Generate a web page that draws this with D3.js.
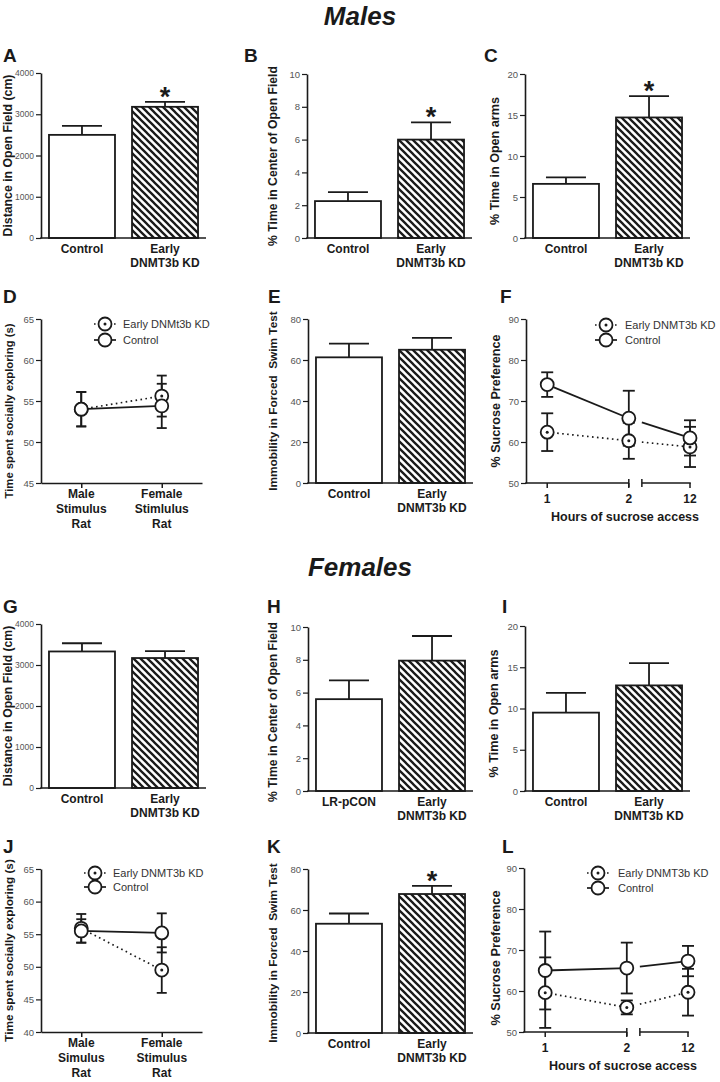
<!DOCTYPE html>
<html>
<head>
<meta charset="utf-8">
<script src="https://cdn.jsdelivr.net/npm/d3@7/dist/d3.min.js"></script>
<style>
  html, body { margin: 0; padding: 0; background: #fff; }
  svg { display: block; }
  text { font-family: 'Liberation Sans', Arial, Helvetica, sans-serif; }
</style>
</head>
<body>
<svg id="fig" width="720" height="1082"></svg>
<script>
// ---------------- DATA ----------------
const barCats = ["Control", "Early\nDNMT3b KD"];
const barCatsH = ["LR-pCON", "Early\nDNMT3b KD"];
const socialCatsM = ["Male\nStimulus\nRat", "Female\nStimlulus\nRat"];
const socialCatsF = ["Male\nSimulus\nRat", "Female\nStimulus\nRat"];
const hours = ["1", "2", "12"];

// Males
const distMales = [2500, 3180];
const distMalesErr = [220, 120];
const centerMales = [2.25, 6.0];
const centerMalesErr = [0.55, 1.05];
const openArmsMales = [6.6, 14.7];
const openArmsMalesErr = [0.8, 2.6];
const fstMales = [61.3, 65.0];
const fstMalesErr = [6.7, 5.8];
const socialMalesKD = [54.0, 55.6];
const socialMalesKDErr = [2.1, 2.5];
const socialMalesCtrl = [54.0, 54.4];
const socialMalesCtrlErr = [2.1, 2.7];
const sucroseMalesCtrl = [74.0, 65.8, 61.0];
const sucroseMalesCtrlErr = [3.0, 6.7, 4.3];
const sucroseMalesKD = [62.4, 60.3, 58.8];
const sucroseMalesKDErr = [4.6, 4.4, 4.9];

// Females
const distFemales = [3330, 3170];
const distFemalesErr = [200, 170];
const centerFemales = [5.6, 7.95];
const centerFemalesErr = [1.15, 1.5];
const openArmsFemales = [9.5, 12.8];
const openArmsFemalesErr = [2.4, 2.7];
const fstFemales = [53.3, 67.8];
const fstFemalesErr = [5.0, 4.0];
const socialFemalesKD = [55.9, 49.5];
const socialFemalesKDErr = [2.2, 3.5];
const socialFemalesCtrl = [55.5, 55.2];
const socialFemalesCtrlErr = [1.8, 3.0];
const sucroseFemalesCtrl = [65.0, 65.6, 67.3];
const sucroseFemalesCtrlErr = [9.5, 6.2, 3.7];
const sucroseFemalesKD = [59.6, 56.0, 59.7];
const sucroseFemalesKDErr = [8.6, 1.7, 5.7];

// tick values
const ticksDist = [0, 1000, 2000, 3000, 4000];
const ticksCenter = [0, 2, 4, 6, 8, 10];
const ticksArms = [0, 5, 10, 15, 20];
const ticksFst = [0, 20, 40, 60, 80];
const ticksSocialM = [45, 50, 55, 60, 65];
const ticksSocialF = [40, 45, 50, 55, 60, 65];
const ticksSucrose = [50, 60, 70, 80, 90];

// ---------------- DRAWING ----------------
const svg = d3.select("#fig");
const INK = "#1a1a1a";
const AXW = 1.6;

const defs = svg.append("defs");
const pat = defs.append("pattern").attr("id", "hatch")
  .attr("patternUnits", "userSpaceOnUse").attr("width", 7).attr("height", 7);
pat.append("rect").attr("width", 7).attr("height", 7).attr("fill", "#fff");
pat.append("path").attr("d", "M-1,-1 L8,8 M-1,6 L1,8 M6,-1 L8,1")
  .attr("stroke", INK).attr("stroke-width", 2.3).attr("stroke-linecap", "square");

function title(txt, y) {
  svg.append("text").attr("x", 360).attr("y", y).attr("text-anchor", "middle")
    .attr("font-size", 26).attr("font-weight", "bold").attr("font-style", "italic")
    .attr("fill", INK).text(txt);
}
function letter(txt, x, y) {
  svg.append("text").attr("x", x).attr("y", y).attr("font-size", 19)
    .attr("font-weight", "bold").attr("fill", INK).text(txt);
}
// x is the visual centre of the rotated label
function yLabel(txt, x, yc, fs) {
  svg.append("text")
    .attr("transform", `translate(${x + fs * 0.36},${yc}) rotate(-90)`)
    .attr("text-anchor", "middle").attr("font-size", fs).attr("font-weight", "bold")
    .attr("fill", INK).style("white-space", "pre").text(txt);
}
function yAxis(g, y, ticks, x0, fs) {
  const ax = g.append("g").attr("transform", `translate(${x0},0)`)
    .call(d3.axisLeft(y).tickValues(ticks).tickFormat(d3.format("d"))
      .tickSize(5).tickSizeOuter(0).tickPadding(2));
  ax.select(".domain").attr("stroke", INK).attr("stroke-width", AXW);
  ax.selectAll(".tick line").attr("stroke", INK).attr("stroke-width", 1.2);
  ax.selectAll(".tick text").attr("font-size", fs || 9.5).attr("fill", "#555")
    .attr("font-family", "'Liberation Sans', Arial, sans-serif");
  return ax;
}
function multiLine(g, x, y, txt, size, lh) {
  const t = g.append("text").attr("x", x).attr("y", y).attr("text-anchor", "middle")
    .attr("font-size", size).attr("font-weight", "bold").attr("fill", INK);
  txt.split("\n").forEach((s, i) => {
    t.append("tspan").attr("x", x).attr("dy", i === 0 ? 0 : lh).text(s);
  });
}

function barPanel(p) {
  const g = svg.append("g");
  const y = d3.scaleLinear().domain(p.domain).range([p.yBot, p.yTop]);
  const x = d3.scaleBand().domain(p.cats).range([p.x0, p.x0 + 165])
    .paddingInner(0.205).paddingOuter(0.096);
  const rows = p.cats.map((c, i) => ({ c, v: p.vals[i], e: p.errs[i], i }));
  rows.forEach(d => {
    const cx = x(d.c) + x.bandwidth() / 2;
    g.append("line").attr("x1", cx).attr("x2", cx).attr("y1", y(d.v)).attr("y2", y(d.v + d.e))
      .attr("stroke", INK).attr("stroke-width", 1.8);
    g.append("line").attr("x1", cx - 20).attr("x2", cx + 20)
      .attr("y1", y(d.v + d.e)).attr("y2", y(d.v + d.e))
      .attr("stroke", INK).attr("stroke-width", 1.8);
  });
  g.selectAll("rect.bar").data(rows).join("rect").attr("class", "bar")
    .attr("x", d => x(d.c)).attr("width", x.bandwidth())
    .attr("y", d => y(d.v)).attr("height", d => p.yBot - y(d.v))
    .attr("fill", d => d.i === 0 ? "#fff" : "url(#hatch)")
    .attr("stroke", INK).attr("stroke-width", 1.8);
  rows.forEach(d => {
    if (p.star && p.star[d.i]) {
      g.append("text").attr("x", x(d.c) + x.bandwidth() / 2).attr("y", y(d.v + d.e) + 4)
        .attr("text-anchor", "middle").attr("font-size", 27).attr("font-weight", "bold")
        .attr("fill", INK).text("*");
    }
  });
  yAxis(g, y, p.ticks, p.x0, p.tickFs);
  g.append("line").attr("x1", p.x0 - 0.8).attr("x2", p.x0 + 165).attr("y1", p.yBot).attr("y2", p.yBot)
    .attr("stroke", INK).attr("stroke-width", AXW);
  p.cats.forEach(c => multiLine(g, x(c) + x.bandwidth() / 2, p.yBot + 15, c, 12, 14));
  yLabel(p.ylabel, p.labelX, (p.yTop + p.yBot) / 2 + (p.labelDy || 0), p.labelFs);
  letter(p.id, p.lx, p.ly);
}

function drawSeries(g, pts, errW) {
  pts.forEach(d => {
    g.append("line").attr("x1", d.x).attr("x2", d.x).attr("y1", d.lo).attr("y2", d.hi)
      .attr("stroke", INK).attr("stroke-width", 1.8);
    [d.lo, d.hi].forEach(yy => g.append("line").attr("x1", d.x - errW).attr("x2", d.x + errW)
      .attr("y1", yy).attr("y2", yy).attr("stroke", INK).attr("stroke-width", 1.8));
  });
}
function drawLine(g, segs, dotted) {
  const line = d3.line().x(d => d[0]).y(d => d[1]);
  segs.forEach(s => g.append("path").attr("d", line(s)).attr("fill", "none")
    .attr("stroke", INK).attr("stroke-width", dotted ? 1.7 : 1.8)
    .attr("stroke-dasharray", dotted ? "1.6,3.4" : null));
}
function drawMarkers(g, pts, kd) {
  pts.forEach(d => {
    g.append("circle").attr("cx", d.x).attr("cy", d.y).attr("r", 6.5)
      .attr("fill", "#fff").attr("stroke", INK).attr("stroke-width", 1.8);
    if (kd) g.append("circle").attr("cx", d.x).attr("cy", d.y).attr("r", 1.5).attr("fill", INK);
  });
}
function legend(g, cx, tx, y1, y2, kdLabel) {
  const rows = [{ y: y1, kd: true, t: kdLabel }, { y: y2, kd: false, t: "Control" }];
  rows.forEach(r => {
    g.append("line").attr("x1", cx - 11).attr("x2", cx + 11).attr("y1", r.y).attr("y2", r.y)
      .attr("stroke", INK).attr("stroke-width", 1.7).attr("stroke-dasharray", r.kd ? "1.6,3.4" : null);
    g.append("circle").attr("cx", cx).attr("cy", r.y).attr("r", 6.5).attr("fill", "#fff")
      .attr("stroke", INK).attr("stroke-width", 1.8);
    if (r.kd) g.append("circle").attr("cx", cx).attr("cy", r.y).attr("r", 1.5).attr("fill", INK);
    g.append("text").attr("x", tx).attr("y", r.y + 4).attr("font-size", 11).attr("fill", "#333").text(r.t);
  });
}

function socialPanel(p) {
  const g = svg.append("g");
  const y = d3.scaleLinear().domain(p.domain).range([p.yBot, p.yTop]);
  const x = d3.scalePoint().domain(p.cats).range([p.x0, p.x0 + 161]).padding(0.5);
  const mk = (vals, errs) => p.cats.map((c, i) => ({
    x: x(c), y: y(vals[i]), lo: y(vals[i] - errs[i]), hi: y(vals[i] + errs[i]) }));
  const kd = mk(p.kd, p.kdErr), ct = mk(p.ctrl, p.ctrlErr);
  drawSeries(g, kd, 5);
  drawSeries(g, ct, 5);
  drawLine(g, [kd.map(d => [d.x, d.y])], true);
  drawLine(g, [ct.map(d => [d.x, d.y])], false);
  drawMarkers(g, kd, true);
  drawMarkers(g, ct, false);
  yAxis(g, y, p.ticks, p.x0);
  const xa = g.append("g").attr("transform", `translate(0,${p.yBot})`)
    .call(d3.axisBottom(x).tickSize(5).tickSizeOuter(0).tickFormat(""));
  xa.select(".domain").attr("stroke", INK).attr("stroke-width", AXW);
  xa.selectAll(".tick line").attr("stroke", INK).attr("stroke-width", 1.5);
  p.cats.forEach(c => multiLine(g, x(c), p.yBot + 15, c, 12, 15));
  legend(g, p.legCx, p.legTx, p.legY1, p.legY2, p.kdLabel);
  yLabel(p.ylabel, p.labelX, (p.yTop + p.yBot) / 2 + (p.labelDy || 0), p.labelFs);
  letter(p.id, p.lx, p.ly);
}

function sucrosePanel(p) {
  const g = svg.append("g");
  const y = d3.scaleLinear().domain(p.domain).range([p.yBot, p.yTop]);
  // slots: category index with compressed spacing after the axis break
  const hourSlots = [0, 1, 1.75];
  const xs = d3.scaleLinear().domain([-0.26, 1.75]).range([p.x0, p.x0 + 164]);
  const x = h => xs(hourSlots[hours.indexOf(h)]);
  const breakR = xs(1.16);
  const mk = (vals, errs) => hours.map((h, i) => ({
    x: x(h), y: y(vals[i]), lo: y(vals[i] - errs[i]), hi: y(vals[i] + errs[i]) }));
  const kd = mk(p.kd, p.kdErr), ct = mk(p.ctrl, p.ctrlErr);
  const segs = pts => {
    const a = pts[1], b = pts[2];
    const t = (breakR - a.x) / (b.x - a.x);
    return [[[pts[0].x, pts[0].y], [a.x, a.y]], [[breakR, a.y + t * (b.y - a.y)], [b.x, b.y]]];
  };
  drawSeries(g, kd, 6);
  drawSeries(g, ct, 6);
  drawLine(g, segs(kd), true);
  drawLine(g, segs(ct), false);
  drawMarkers(g, kd, true);
  drawMarkers(g, ct, false);
  yAxis(g, y, p.ticks, p.x0);
  const xL = x("2"), xEnd = x("12");
  [[p.x0 - 0.8, xL], [breakR, xEnd + 0.8]].forEach(s =>
    g.append("line").attr("x1", s[0]).attr("x2", s[1]).attr("y1", p.yBot).attr("y2", p.yBot)
      .attr("stroke", INK).attr("stroke-width", AXW));
  [xL, breakR].forEach(bx => g.append("line").attr("x1", bx).attr("x2", bx)
    .attr("y1", p.yBot - 4).attr("y2", p.yBot + 4).attr("stroke", INK).attr("stroke-width", 1.5));
  hours.forEach(h => {
    g.append("line").attr("x1", x(h)).attr("x2", x(h)).attr("y1", p.yBot).attr("y2", p.yBot + 5)
      .attr("stroke", INK).attr("stroke-width", 1.5);
    g.append("text").attr("x", x(h)).attr("y", p.yBot + 20).attr("text-anchor", "middle")
      .attr("font-size", 12).attr("font-weight", "bold").attr("fill", INK).text(h);
  });
  g.append("text").attr("x", p.x0 + 99).attr("y", p.yBot + 38).attr("text-anchor", "middle")
    .attr("font-size", 12.5).attr("font-weight", "bold").attr("fill", INK).text("Hours of sucrose access");
  legend(g, p.legCx, p.legTx, p.legY1, p.legY2, p.kdLabel);
  yLabel(p.ylabel, p.labelX, (p.yTop + p.yBot) / 2 + (p.labelDy || 0), p.labelFs);
  letter(p.id, p.lx, p.ly);
}

title("Males", 25);
title("Females", 576);

barPanel({ id: "A", lx: 3, ly: 62, x0: 41, yTop: 73, yBot: 238, domain: [0, 4000], ticks: ticksDist, tickFs: 8.5,
  cats: barCats, vals: distMales, errs: distMalesErr, star: [false, true],
  ylabel: "Distance in Open Field (cm)", labelX: 8, labelFs: 12.3 });
barPanel({ id: "B", lx: 244, ly: 62, x0: 307, yTop: 74, yBot: 238, domain: [0, 10], ticks: ticksCenter,
  cats: barCats, vals: centerMales, errs: centerMalesErr, star: [false, true],
  ylabel: "% Time in Center of Open Field", labelX: 273, labelFs: 12.2 });
barPanel({ id: "C", lx: 484, ly: 62, x0: 525, yTop: 74, yBot: 238, domain: [0, 20], ticks: ticksArms,
  cats: barCats, vals: openArmsMales, errs: openArmsMalesErr, star: [false, true],
  ylabel: "% Time in Open arms", labelX: 494, labelFs: 12.6, labelDy: 5 });

socialPanel({ id: "D", lx: 3, ly: 303, x0: 41, yTop: 319, yBot: 483, domain: [45, 65], ticks: ticksSocialM,
  cats: socialCatsM, kd: socialMalesKD, kdErr: socialMalesKDErr, ctrl: socialMalesCtrl, ctrlErr: socialMalesCtrlErr,
  legCx: 105, legTx: 123, legY1: 324, legY2: 340, kdLabel: "Early DNMt3b KD",
  ylabel: "Time spent socially exploring (s)", labelX: 9, labelFs: 11.3, labelDy: 10 });
barPanel({ id: "E", lx: 268, ly: 303, x0: 308, yTop: 319, yBot: 483, domain: [0, 80], ticks: ticksFst,
  cats: barCats, vals: fstMales, errs: fstMalesErr, star: [false, false],
  ylabel: "Immobility in Forced  Swim Test", labelX: 273, labelFs: 11.8 });
sucrosePanel({ id: "F", lx: 500, ly: 303, x0: 526, yTop: 319, yBot: 483, domain: [50, 90], ticks: ticksSucrose,
  kd: sucroseMalesKD, kdErr: sucroseMalesKDErr, ctrl: sucroseMalesCtrl, ctrlErr: sucroseMalesCtrlErr,
  legCx: 606, legTx: 625, legY1: 325, legY2: 340, kdLabel: "Early DNMT3b KD",
  ylabel: "% Sucrose Preference", labelX: 495, labelFs: 12.6 });

barPanel({ id: "G", lx: 3, ly: 613, x0: 41, yTop: 624, yBot: 788, domain: [0, 4000], ticks: ticksDist, tickFs: 8.5,
  cats: barCats, vals: distFemales, errs: distFemalesErr, star: [false, false],
  ylabel: "Distance in Open Field (cm)", labelX: 8, labelFs: 12.2 });
barPanel({ id: "H", lx: 267, ly: 613, x0: 308, yTop: 627, yBot: 791, domain: [0, 10], ticks: ticksCenter,
  cats: barCatsH, vals: centerFemales, errs: centerFemalesErr, star: [false, false],
  ylabel: "% Time in Center of Open Field", labelX: 273, labelFs: 12.2, labelDy: 3 });
barPanel({ id: "I", lx: 502, ly: 613, x0: 525, yTop: 626, yBot: 791, domain: [0, 20], ticks: ticksArms,
  cats: barCats, vals: openArmsFemales, errs: openArmsFemalesErr, star: [false, false],
  ylabel: "% Time in Open arms", labelX: 493, labelFs: 12.6, labelDy: 5 });

socialPanel({ id: "J", lx: 3, ly: 853, x0: 41, yTop: 869, yBot: 1032, domain: [40, 65], ticks: ticksSocialF,
  cats: socialCatsF, kd: socialFemalesKD, kdErr: socialFemalesKDErr, ctrl: socialFemalesCtrl, ctrlErr: socialFemalesCtrlErr,
  legCx: 95, legTx: 113, legY1: 873, legY2: 887, kdLabel: "Early DNMT3b KD",
  ylabel: "Time spent socially exploring (s)", labelX: 9, labelFs: 11.8 });
barPanel({ id: "K", lx: 267, ly: 853, x0: 308, yTop: 869, yBot: 1033, domain: [0, 80], ticks: ticksFst,
  cats: barCats, vals: fstFemales, errs: fstFemalesErr, star: [false, true],
  ylabel: "Immobility in Forced  Swim Test", labelX: 273, labelFs: 11.8, labelDy: 2 });
sucrosePanel({ id: "L", lx: 502, ly: 853, x0: 524, yTop: 868, yBot: 1032, domain: [50, 90], ticks: ticksSucrose,
  kd: sucroseFemalesKD, kdErr: sucroseFemalesKDErr, ctrl: sucroseFemalesCtrl, ctrlErr: sucroseFemalesCtrlErr,
  legCx: 598, legTx: 618, legY1: 873, legY2: 888, kdLabel: "Early DNMT3b KD",
  ylabel: "% Sucrose Preference", labelX: 495, labelFs: 12.8, labelDy: 8 });
</script>
</body>
</html>
